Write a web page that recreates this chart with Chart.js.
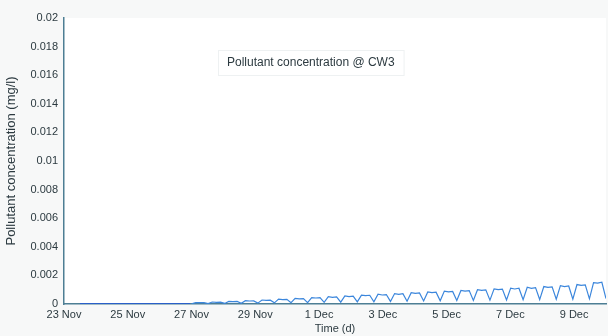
<!DOCTYPE html>
<html>
<head>
<meta charset="utf-8">
<script src="https://cdn.jsdelivr.net/npm/chart.js@4.4.1/dist/chart.umd.min.js"></script>
<style>
  html, body { margin: 0; padding: 0; background: #f7f8f8; }
  #wrap { width: 608px; height: 336px; }
</style>
</head>
<body>
<div id="wrap"><canvas id="c" width="608" height="336"></canvas></div>
<script>
// x axis: days counted from 23 Nov
const dateTickDays = [0, 2, 4, 6, 8, 10, 12, 14, 16];
const dateTickLabels = ['23 Nov', '25 Nov', '27 Nov', '29 Nov', '1 Dec', '3 Dec', '5 Dec', '7 Dec', '9 Dec'];
const yTickLabels = ['0', '0.002', '0.004', '0.006', '0.008', '0.01', '0.012', '0.014', '0.016', '0.018', '0.02'];

// quiet period before the plume arrives (mg/l)
const baselineDays = [0.5, 3.95];
const baselineValues = [0, 0];

// tidal cycle samples from 27 Nov onward, 0.13 day apart (mg/l)
const cycleStartDay = 4.0;
const cycleStepDays = 0.13;
const cycleValues = [
  0.00002, 0.00010, 0.00009, 0.00010,
  0.00003, 0.00014, 0.00012, 0.00013,
  0.00004, 0.00018, 0.00017, 0.00018,
  0.00005, 0.00023, 0.00021, 0.00022,
  0.00006, 0.00028, 0.00026, 0.00027,
  0.00008, 0.00034, 0.00031, 0.00033,
  0.00009, 0.00039, 0.00036, 0.00038,
  0.00010, 0.00045, 0.00042, 0.00044,
  0.00012, 0.00051, 0.00047, 0.00050,
  0.00013, 0.00056, 0.00052, 0.00055,
  0.00015, 0.00062, 0.00058, 0.00061,
  0.00016, 0.00068, 0.00063, 0.00066,
  0.00018, 0.00073, 0.00068, 0.00072,
  0.00019, 0.00079, 0.00074, 0.00077,
  0.00021, 0.00084, 0.00079, 0.00083,
  0.00022, 0.00090, 0.00085, 0.00088,
  0.00024, 0.00095, 0.00090, 0.00094,
  0.00025, 0.00100, 0.00095, 0.00099,
  0.00027, 0.00106, 0.00100, 0.00104,
  0.00028, 0.00111, 0.00105, 0.00110,
  0.00030, 0.00117, 0.00110, 0.00115,
  0.00031, 0.00122, 0.00116, 0.00120,
  0.00033, 0.00128, 0.00121, 0.00126,
  0.00034, 0.00136, 0.00130, 0.00134,
  0.00036, 0.00150, 0.00146, 0.00152,
  0.00038
];

const legendText = 'Pollutant concentration @ CW3';
const xTitle = 'Time (d)';
const yTitle = 'Pollutant concentration (mg/l)';

const baselinePoints = baselineDays.map((d, i) => ({ x: d, y: baselineValues[i] }));
const cyclePoints = cycleValues.map((v, i) => ({ x: cycleStartDay + i * cycleStepDays, y: v }));

const axisColor = '#4d7e94';
const textColor = '#2c3a40';
const family = 'Liberation Sans, Arial, sans-serif';

// white plot area plus the in-axes legend box
const plotDecor = {
  id: 'plotDecor',
  beforeDraw(chart) {
    const { ctx, chartArea: a } = chart;
    ctx.save();
    ctx.fillStyle = '#ffffff';
    ctx.fillRect(a.left, a.top, a.right - a.left, a.bottom - a.top);
    ctx.restore();
  },
  afterDraw(chart) {
    const { ctx, chartArea: a } = chart;
    ctx.save();
    ctx.font = '12px ' + family;
    const w = ctx.measureText(legendText).width + 18;
    const x = a.left + 154, y = a.top + 32;
    ctx.fillStyle = '#ffffff';
    ctx.fillRect(x, y, w, 25);
    ctx.strokeStyle = '#eef1f2';
    ctx.lineWidth = 1;
    ctx.strokeRect(x + 0.5, y + 0.5, w, 25);
    ctx.fillStyle = textColor;
    ctx.textBaseline = 'middle';
    ctx.fillText(legendText, x + 9, y + 13);
    ctx.restore();
  }
};

new Chart(document.getElementById('c'), {
  type: 'line',
  data: {
    datasets: [
      {
        label: legendText,
        data: baselinePoints,
        borderColor: '#2a5fc8',
        borderWidth: 2.2,
        pointRadius: 0,
        tension: 0
      },
      {
        label: legendText,
        data: cyclePoints,
        borderColor: '#3b86dc',
        borderWidth: 1.2,
        pointRadius: 0,
        tension: 0
      }
    ]
  },
  options: {
    responsive: false,
    animation: false,
    layout: { padding: { top: 18, right: 2, left: 0, bottom: 0 } },
    plugins: { legend: { display: false }, tooltip: { enabled: false } },
    scales: {
      x: {
        type: 'linear',
        min: 0,
        max: 17,
        afterBuildTicks(axis) { axis.ticks = dateTickDays.map(v => ({ value: v })); },
        afterFit(axis) { axis.height = 32; },
        ticks: {
          color: textColor,
          font: { family, size: 11 },
          padding: 0,
          maxRotation: 0,
          autoSkip: false,
          callback: (v) => dateTickLabels[dateTickDays.indexOf(v)]
        },
        grid: { display: false, drawOnChartArea: false, tickLength: 4, tickColor: axisColor },
        border: { color: axisColor, width: 1.5 },
        title: { display: true, text: xTitle, color: textColor, font: { family, size: 11 }, padding: { top: 0, bottom: 0 } }
      },
      y: {
        min: 0,
        max: 0.02,
        afterBuildTicks(axis) { axis.ticks = yTickLabels.map(s => ({ value: parseFloat(s) })); },
        afterFit(axis) { axis.width = 64; },
        ticks: {
          color: textColor,
          font: { family, size: 11 },
          padding: 2,
          callback: (v) => yTickLabels[yTickLabels.map(parseFloat).indexOf(v)]
        },
        grid: { display: false, drawOnChartArea: false, tickLength: 4, tickColor: axisColor },
        border: { color: axisColor, width: 1.5 },
        title: { display: true, text: yTitle, color: textColor, font: { family, size: 13 }, padding: { top: 4, bottom: 2 } }
      }
    }
  },
  plugins: [plotDecor]
});
</script>
</body>
</html>
